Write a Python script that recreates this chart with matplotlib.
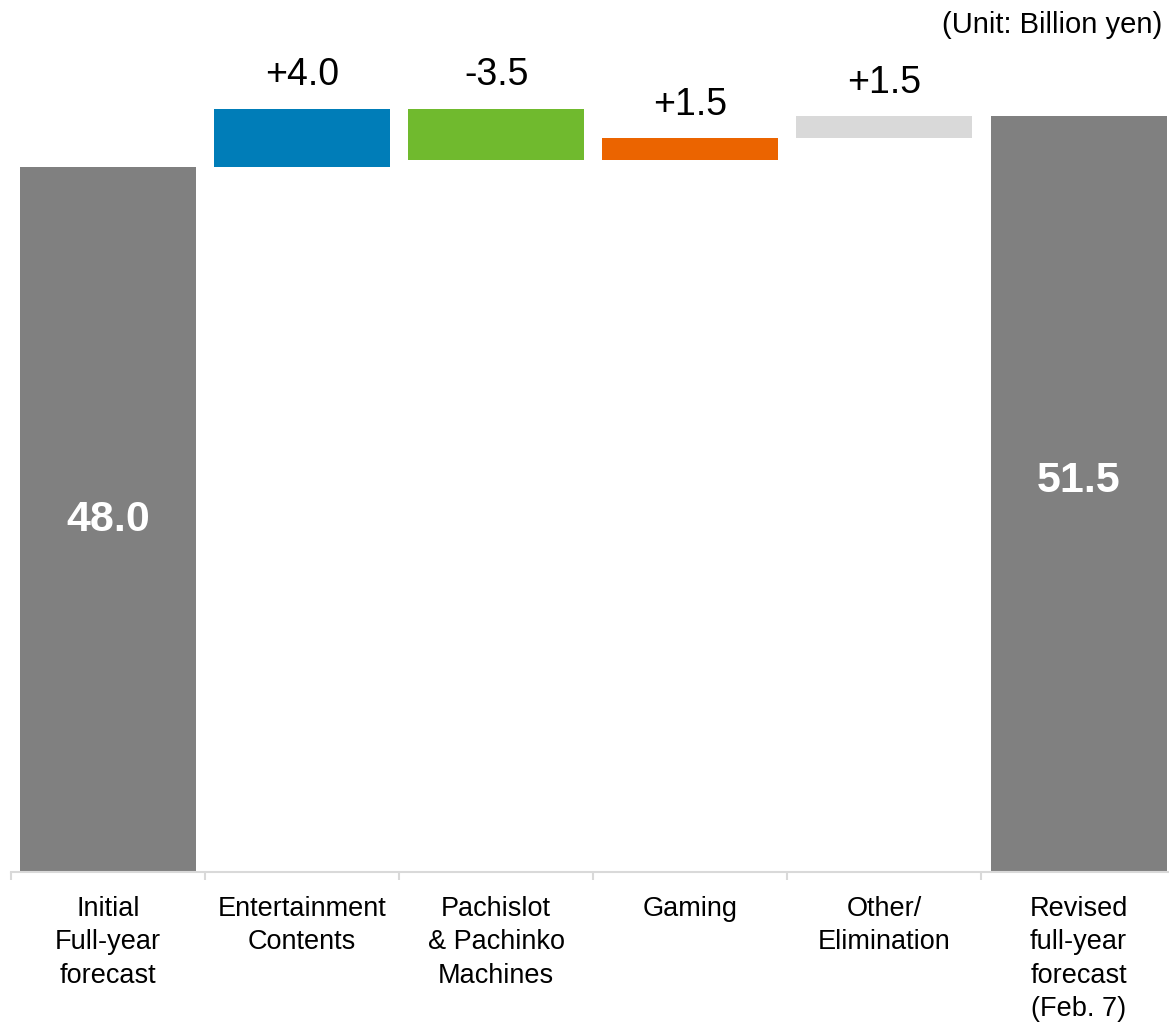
"""waterfall of full-year forecast revision by segment"""
import numpy as np
import matplotlib
matplotlib.use("Agg")
import matplotlib.pyplot as plt

categories = ["Initial\nFull-year\nforecast", "Entertainment\nContents",
              "Pachislot\n& Pachinko\nMachines", "Gaming", "Other/\nElimination",
              "Revised\nfull-year\nforecast\n(Feb. 7)"]
initial = 48.0
changes = [4.0, -3.5, 1.5, 1.5]
revised = 51.5
colors = ["#808080", "#007DB8", "#70BA2E", "#EB6400", "#D9D9D9", "#808080"]

plt.rcParams['font.family'] = ['Liberation Sans', 'DejaVu Sans']

fig = plt.figure(figsize=(11.69, 10.23), dpi=100)
ax = fig.add_axes([11 / 1169, 151 / 1023, 6 * 194.1 / 1169, 872 / 1023])

x = np.arange(len(categories))
width = 0.907

# totals at both ends
ax.bar(x[0], initial, width, color=colors[0])
ax.bar(x[-1], revised, width, color=colors[-1])
ax.text(x[0], initial / 2, f"{initial:.1f}", ha="center", va="center",
        color="white", fontsize=31, fontweight="bold")
ax.text(x[-1], revised / 2 + 0.9, f"{revised:.1f}", ha="center", va="center",
        color="white", fontsize=31, fontweight="bold")

# floating deltas
level = initial
for i, d in enumerate(changes):
    xi = x[i + 1]
    low = min(level, level + d)
    ax.bar(xi, abs(d), width, bottom=low, color=colors[i + 1])
    top = max(level, level + d)
    ax.annotate(f"{d:+.1f}", (xi, top), xytext=(0, 11), textcoords="offset points",
                ha="center", va="bottom", fontsize=27)
    level += d

ax.set_xlim(-0.5, len(categories) - 0.5)
ax.set_ylim(0, 59.4)
ax.set_yticks([])
for s in ["top", "right", "left"]:
    ax.spines[s].set_visible(False)
ax.spines["bottom"].set_color("#D9D9D9")
ax.spines["bottom"].set_linewidth(1.5)

ax.set_xticks(x)
ax.set_xticklabels(categories, fontsize=19.5, linespacing=1.38, va="top")
ax.tick_params(axis="x", which="major", length=0, pad=17)
ax.set_xticks(np.arange(-0.5, len(categories)), minor=True)
ax.tick_params(axis="x", which="minor", length=6, width=1.5, color="#D9D9D9")

fig.text(1162 / 1169, 1 - 25 / 1023, "(Unit: Billion yen)", ha="right", va="center",
         fontsize=21)

fig.savefig("out.png", dpi=100)
